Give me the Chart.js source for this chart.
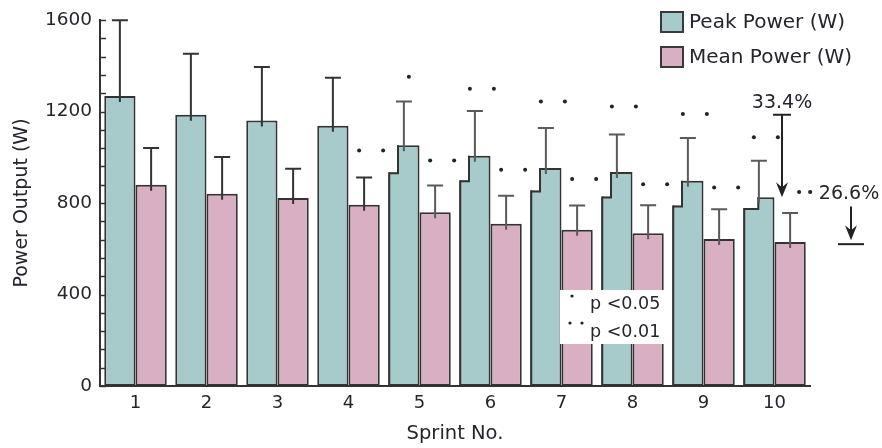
<!DOCTYPE html>
<html><head><meta charset="utf-8">
<script src="https://cdn.jsdelivr.net/npm/chart.js@4.4.1/dist/chart.umd.min.js"></script>
<style>html,body{margin:0;padding:0;background:#fff}#wrap{width:882px;height:448px}</style>
</head><body><div id="wrap"><canvas id="c" width="882" height="448"></canvas></div>
<script>
// ---------- data ----------
const sprints = ['1','2','3','4','5','6','7','8','9','10'];
const peakPower = [1268,1186,1161,1138,1052,1007,953,935,897,825];
const peakSD    = [331,267,234,209,192,195,175,164,187,160];
const meanPower = [880,840,822,792,760,709,683,668,643,629];
const meanSD    = [160,161,128,120,117,123,106,122,130,127];
// lower "step" level drawn on the left part of the later peak bars
const peakStep  = [null,null,null,null,934,899,855,828,789,778];
// significance markers (1 = p<0.05, 2 = p<0.01) and their levels (W)
const peakSig      = [0,0,0,0,1,2,2,2,2,2];
const peakSigLevel = [null,null,null,null,1352,1299,1244,1222,1189,1087];
const meanSig      = [0,0,0,2,2,2,2,2,2,2];
const meanSigLevel = [null,null,null,1030,986,945,905,882,868,848];
const yMajorTicks = [0,400,800,1200,1600];
const peakDrop = {label:'33.4%', from:1186, to:825};
const meanDrop = {label:'26.6%', from:785, to:620};
const seriesNames = ['Peak Power (W)','Mean Power (W)'];
const sigLegend = ['p <0.05','p <0.01'];

// ---------- style ----------
const FONT = 'DejaVu Sans';
const TXT = '#25252e';
const LINE = '#333';
const PEAK_COL = '#a7cbca';
const MEAN_COL = '#d9afc3';

const decor = {
  id:'decor',
  beforeDatasetsDraw(chart){
    const ctx=chart.ctx, y=chart.scales.y, ca=chart.chartArea;
    ctx.save();
    ctx.strokeStyle=LINE; ctx.lineWidth=1.5;
    y.ticks.forEach(t=>{
      const py=Math.round(y.getPixelForValue(t.value))+0.5;
      ctx.beginPath(); ctx.moveTo(ca.left, py); ctx.lineTo(ca.left+6, py); ctx.stroke();
    });
    ctx.restore();
  },
  afterDatasetsDraw(chart){
    const ctx=chart.ctx, y=chart.scales.y, x=chart.scales.x, ca=chart.chartArea;
    const pm=chart.getDatasetMeta(0).data, mm=chart.getDatasetMeta(1).data;
    ctx.save();
    // step notches on peak bars
    pm.forEach((b,i)=>{
      if(peakStep[i]==null) return;
      const left=b.x-b.width/2, w=b.width*(i===9?0.45:0.28);
      const sy=y.getPixelForValue(peakStep[i]);
      ctx.fillStyle='#fff';
      ctx.fillRect(left-0.5, b.y-1, w+0.5, sy-b.y+1);
      ctx.strokeStyle=LINE; ctx.lineWidth=2;
      ctx.beginPath();
      ctx.moveTo(left+1, sy+1); ctx.lineTo(left+w+1, sy+1); ctx.lineTo(left+w+1, b.y);
      ctx.stroke();
      ctx.beginPath(); ctx.moveTo(left+1, sy); ctx.lineTo(left+1, ca.bottom); ctx.stroke();
    });
    // error bars (upper half)
    const err=(b,v,sd,col)=>{
      const yt=y.getPixelForValue(v+sd);
      ctx.strokeStyle=col; ctx.lineWidth=2;
      ctx.beginPath();
      ctx.moveTo(b.x, b.y+6); ctx.lineTo(b.x, yt);
      ctx.moveTo(b.x-8, yt); ctx.lineTo(b.x+8, yt);
      ctx.stroke();
    };
    pm.forEach((b,i)=>err(b,peakPower[i],peakSD[i], i<4?'#333':'#5a5a5a'));
    mm.forEach((b,i)=>err(b,meanPower[i],meanSD[i], i<4?'#333':'#5a5a5a'));
    // significance dots
    const dots=(b,n,lvl,special)=>{
      if(!n) return;
      const yy=y.getPixelForValue(lvl);
      const offs = special ? [9,20] : (n===1?[5]:[-5,19]);
      ctx.fillStyle='#222';
      offs.forEach(o=>{ctx.beginPath(); ctx.arc(b.x+o, yy, 2, 0, Math.PI*2); ctx.fill();});
    };
    pm.forEach((b,i)=>dots(b,peakSig[i],peakSigLevel[i],false));
    mm.forEach((b,i)=>dots(b,meanSig[i],meanSigLevel[i],i===9));
    // drop arrows
    const arrow=(ax,yf,yt,capHalf,baseLine)=>{
      ctx.strokeStyle='#222'; ctx.fillStyle='#222'; ctx.lineWidth=2;
      ctx.beginPath();
      if(!baseLine){ ctx.moveTo(ax-capHalf, yf); ctx.lineTo(ax+capHalf, yf); }
      ctx.moveTo(ax, yf); ctx.lineTo(ax, yt-8);
      ctx.stroke();
      ctx.beginPath();
      ctx.moveTo(ax, yt); ctx.lineTo(ax-6, yt-15); ctx.lineTo(ax, yt-10); ctx.lineTo(ax+6, yt-15); ctx.closePath();
      ctx.fill();
    };
    ctx.font='19px "'+FONT+'"'; ctx.textAlign='center'; ctx.textBaseline='middle';
    const a1x=x.getPixelForValue(9)+7.5;
    const a1f=y.getPixelForValue(peakDrop.from), a1t=y.getPixelForValue(peakDrop.to);
    arrow(a1x,a1f,a1t,9,false);
    ctx.fillStyle=TXT; ctx.fillText(peakDrop.label, a1x, a1f-12);
    const a2x=ca.right+41;
    const a2f=y.getPixelForValue(meanDrop.from), a2b=y.getPixelForValue(meanDrop.to);
    arrow(a2x,a2f,a2b-4,0,true);
    ctx.strokeStyle='#222'; ctx.lineWidth=2;
    ctx.beginPath(); ctx.moveTo(a2x-13,a2b); ctx.lineTo(a2x+13,a2b); ctx.stroke();
    ctx.fillStyle=TXT; ctx.fillText(meanDrop.label, a2x-2, a2f-12);
    // p-value key box
    const bx=x.getPixelForValue(6)-1.5, bw=112, by=ca.bottom-96, bh=54;
    ctx.fillStyle='#fff'; ctx.fillRect(bx,by,bw,bh);
    ctx.fillStyle='#222';
    [[bx+12,by+6]].forEach(p=>{ctx.beginPath();ctx.arc(p[0],p[1],1.6,0,Math.PI*2);ctx.fill();});
    [[bx+10,by+33],[bx+22,by+33]].forEach(p=>{ctx.beginPath();ctx.arc(p[0],p[1],1.6,0,Math.PI*2);ctx.fill();});
    ctx.font='17.5px "'+FONT+'"'; ctx.textAlign='left'; ctx.fillStyle=TXT;
    ctx.fillText(sigLegend[0], bx+30, by+14);
    ctx.fillText(sigLegend[1], bx+30, by+42);
    ctx.restore();
  },
  afterDraw(chart){
    const ctx=chart.ctx;
    ctx.save();
    const cols=[PEAK_COL,MEAN_COL];
    ctx.font='20px "'+FONT+'"'; ctx.textAlign='left'; ctx.textBaseline='middle';
    seriesNames.forEach((s,i)=>{
      const top=12+i*35;
      ctx.fillStyle=cols[i]; ctx.fillRect(661,top,22,20);
      ctx.strokeStyle='#3a3a3a'; ctx.lineWidth=2; ctx.strokeRect(661,top,22,20);
      ctx.fillStyle=TXT; ctx.fillText(s, 689, top+10.5);
    });
    ctx.restore();
  }
};

Chart.defaults.font.family = FONT;
Chart.defaults.color = TXT;

new Chart(document.getElementById('c'), {
  type:'bar',
  data:{
    labels:sprints,
    datasets:[
      {label:seriesNames[0], data:peakPower, backgroundColor:PEAK_COL, borderColor:LINE, borderWidth:2, borderSkipped:false},
      {label:seriesNames[1], data:meanPower, backgroundColor:MEAN_COL, borderColor:LINE, borderWidth:2, borderSkipped:false}
    ]
  },
  options:{
    responsive:false, animation:false, devicePixelRatio:1, events:[],
    layout:{padding:{left:11,right:72,top:20,bottom:0}},
    datasets:{bar:{categoryPercentage:0.88, barPercentage:1.0}},
    plugins:{legend:{display:false}, tooltip:{enabled:false}},
    scales:{
      x:{
        grid:{display:false, drawTicks:false},
        border:{display:true,color:LINE,width:2},
        ticks:{font:{size:18},padding:7,color:TXT},
        title:{display:true,text:'Sprint No.',font:{size:19.5},color:TXT,padding:{top:0,bottom:2}},
        afterFit(s){ s.height=62; }
      },
      y:{
        min:0,max:1600,
        grid:{display:false, drawTicks:false},
        border:{display:true,color:LINE,width:2},
        ticks:{stepSize:80, autoSkip:false, font:{size:18.5}, padding:8, color:TXT,
          callback:(v)=> yMajorTicks.includes(v)? String(v) : ''},
        title:{display:true,text:'Power Output (W)',font:{size:19},color:TXT,padding:0},
        afterFit(s){ s.width=89; }
      }
    }
  },
  plugins:[decor]
});
</script></body></html>
